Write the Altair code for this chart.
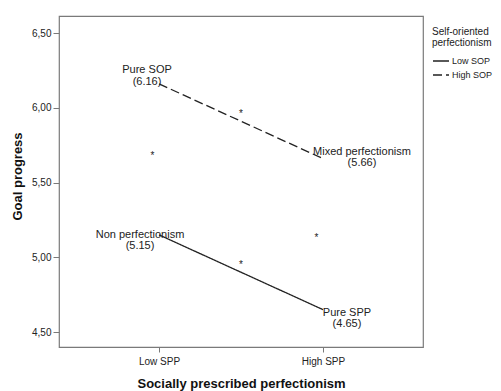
import altair as alt
import pandas as pd

# ---- data ----
categories = ["Low SPP", "High SPP"]          # x categories (positions 0, 1)
sop_groups = ["Low SOP", "High SOP"]
low_sop_values = [5.15, 4.65]
high_sop_values = [6.16, 5.66]
low_sop_labels = ["Non perfectionism", "Pure SPP"]
high_sop_labels = ["Pure SOP", "Mixed perfectionism"]
y_ticks = [4.5, 5.0, 5.5, 6.0, 6.5]

# significance markers (x in category units, y in goal progress units)
star_x = [-0.04, 0.5, 0.96, 0.5]
star_y = [5.70, 5.98, 5.15, 4.97]

rows = []
for i, c in enumerate(categories):
    rows.append({"x": i, "cat": c, "group": "Low SOP", "value": low_sop_values[i],
                 "label": [low_sop_labels[i], f"({low_sop_values[i]:.2f})"], "key": low_sop_labels[i]})
    rows.append({"x": i, "cat": c, "group": "High SOP", "value": high_sop_values[i],
                 "label": [high_sop_labels[i], f"({high_sop_values[i]:.2f})"], "key": high_sop_labels[i]})
df = pd.DataFrame(rows)
stars = pd.DataFrame({"x": star_x, "value": star_y, "t": ["*"] * len(star_x)})

FONT = "Liberation Sans"
TXT = "#222222"
FRAME = "#7a7a7a"

label_expr = "[" + ",".join(f"'{c}'" for c in categories) + "][datum.value]"

xscale = alt.Scale(domain=[-0.61, 1.61], nice=False, zero=False)
yscale = alt.Scale(domain=[4.40, 6.614], nice=False, zero=False)

x_enc = alt.X("x:Q", scale=xscale,
              axis=alt.Axis(title="Socially prescribed perfectionism", values=[0, 1],
                            labelExpr=label_expr, grid=False, domain=False,
                            tickSize=5, tickColor=FRAME, labelPadding=4,
                            labelFont=FONT, labelFontSize=10, labelColor=TXT,
                            titleFont=FONT, titleFontSize=13, titleFontWeight="bold",
                            titleColor="#111111", titleY=36, titleBaseline="middle"))
y_enc = alt.Y("value:Q", scale=yscale,
              axis=alt.Axis(title="Goal progress", values=y_ticks,
                            labelExpr="replace(format(datum.value, '.2f'), '.', ',')",
                            grid=False, domain=False, tickSize=6, tickColor=FRAME,
                            labelPadding=2, labelFont=FONT, labelFontSize=10, labelColor=TXT,
                            titleFont=FONT, titleFontSize=13, titleFontWeight="bold",
                            titleColor="#111111", titleX=-35, titleY=160))

lines = alt.Chart(df).mark_line(color="#222222", strokeWidth=1.3).encode(
    x=x_enc, y=y_enc,
    strokeDash=alt.StrokeDash("group:N",
        scale=alt.Scale(domain=sop_groups, range=[[1, 0], [9, 4]]),
        legend=alt.Legend(title=["Self-oriented", "perfectionism"], orient="none",
                          legendX=373, legendY=11, titleFont=FONT, titleFontSize=10,
                          titleFontWeight="normal", titleColor=TXT, titleLineHeight=11,
                          titlePadding=4, labelFont=FONT, labelFontSize=9, labelColor=TXT,
                          symbolType="stroke", symbolSize=256, symbolStrokeColor="#222222",
                          symbolStrokeWidth=1.3, labelOffset=2, rowPadding=0)),
    detail="group:N",
)

offsets = {
    "Pure SOP": (-12, -13.5),
    "Mixed perfectionism": (39, -7),
    "Non perfectionism": (-19, 0),
    "Pure SPP": (24, 3),
}
texts = []
for key, (dx, dy) in offsets.items():
    texts.append(
        alt.Chart(df).transform_filter(alt.datum.key == key)
        .mark_text(font=FONT, fontSize=11, color=TXT, align="center", baseline="middle",
                   lineHeight=11.5, dx=dx, dy=dy)
        .encode(x="x:Q", y="value:Q", text="label")
    )

star_layer = alt.Chart(stars).mark_text(font=FONT, fontSize=10, color=TXT,
                                        baseline="middle", dy=3).encode(
    x="x:Q", y="value:Q", text="t:N")

chart = alt.layer(lines, star_layer, *texts).properties(
    width=364, height=331,
    autosize=alt.AutoSizeParams(type="none"),
    padding={"left": 59, "top": 16, "right": 78, "bottom": 44},
    background="white",
).configure_view(stroke=FRAME, strokeWidth=1.2)

chart.save("out.html", embed_options={"renderer": "svg", "actions": False})
